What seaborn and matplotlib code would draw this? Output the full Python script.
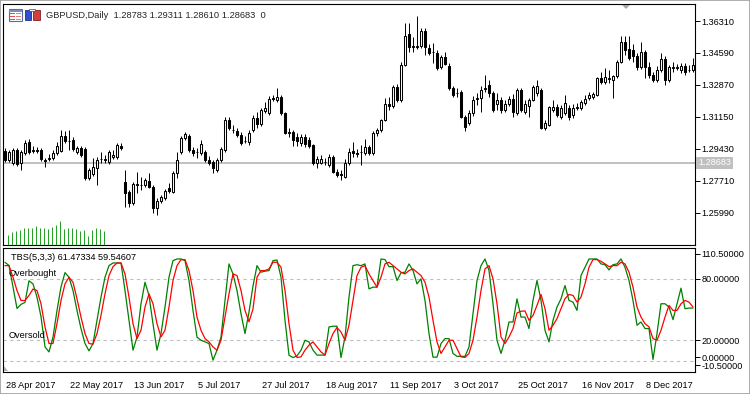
import numpy as np
import pandas as pd
import matplotlib
matplotlib.use("Agg")
import matplotlib.pyplot as plt
import matplotlib.transforms as mtrans
from matplotlib.patches import Rectangle, Polygon
import seaborn as sns

# ---------------- data ----------------
dates = pd.bdate_range("2017-04-28", periods=173)

open_ = [1.2932, 1.2883, 1.2867, 1.2937, 1.2867, 1.2921, 1.2980, 1.2932, 1.2937, 1.2937,
         1.2883, 1.2889, 1.2894, 1.2921, 1.2932, 1.3012, 1.2985, 1.2991, 1.2926, 1.2948,
         1.2942, 1.2786, 1.2808, 1.2840, 1.2889, 1.2883, 1.2872, 1.2899, 1.2899, 1.2958,
         1.2765, 1.2711, 1.2652, 1.2749, 1.2749, 1.2749, 1.2770, 1.2738, 1.2625, 1.2663,
         1.2679, 1.2733, 1.2711, 1.2813, 1.2926, 1.3002, 1.3012, 1.2937, 1.2926, 1.2921,
         1.2926, 1.2883, 1.2872, 1.2829, 1.2883, 1.2937, 1.3098, 1.3045, 1.3039, 1.3018,
         1.2985, 1.2980, 1.3045, 1.3109, 1.3077, 1.3147, 1.3136, 1.3211, 1.3206, 1.3222,
         1.3136, 1.3028, 1.3034, 1.3007, 1.2975, 1.3007, 1.2991, 1.2964, 1.2867, 1.2867,
         1.2872, 1.2856, 1.2899, 1.2819, 1.2808, 1.2792, 1.2867, 1.2932, 1.2921, 1.2926,
         1.2921, 1.2953, 1.2921, 1.3028, 1.3045, 1.3098, 1.3184, 1.3174, 1.3276, 1.3206,
         1.3394, 1.3561, 1.3491, 1.3491, 1.3497, 1.3577, 1.3486, 1.3464, 1.3459, 1.3384,
         1.3437, 1.3389, 1.3271, 1.3244, 1.3249, 1.3115, 1.3082, 1.3136, 1.3211, 1.3217,
         1.3265, 1.3287, 1.3244, 1.3184, 1.3206, 1.3152, 1.3184, 1.3211, 1.3136, 1.3260,
         1.3141, 1.3174, 1.3206, 1.3244, 1.3260, 1.3055, 1.3072, 1.3152, 1.3168, 1.3115,
         1.3136, 1.3163, 1.3125, 1.3163, 1.3163, 1.3190, 1.3217, 1.3222, 1.3233, 1.3324,
         1.3303, 1.3319, 1.3314, 1.3335, 1.3410, 1.3518, 1.3480, 1.3475, 1.3443, 1.3384,
         1.3464, 1.3384, 1.3341, 1.3314, 1.3367, 1.3427, 1.3314, 1.3378, 1.3378, 1.3367,
         1.3389, 1.3367, 1.3367]

high_ = [1.2948, 1.2937, 1.2948, 1.2948, 1.2937, 1.2991, 1.2996, 1.2958, 1.2953, 1.2948,
         1.2894, 1.2916, 1.2937, 1.2980, 1.3045, 1.3039, 1.3045, 1.3007, 1.2958, 1.2958,
         1.2953, 1.2840, 1.2894, 1.2899, 1.2926, 1.2910, 1.2937, 1.2937, 1.2975, 1.2975,
         1.2829, 1.2722, 1.2765, 1.2819, 1.2792, 1.2786, 1.2813, 1.2749, 1.2679, 1.2695,
         1.2727, 1.2760, 1.2824, 1.2926, 1.3012, 1.3034, 1.3023, 1.2953, 1.2948, 1.2991,
         1.2937, 1.2905, 1.2883, 1.2894, 1.2953, 1.3115, 1.3115, 1.3072, 1.3055, 1.3034,
         1.3012, 1.3045, 1.3125, 1.3141, 1.3163, 1.3195, 1.3228, 1.3233, 1.3271, 1.3233,
         1.3141, 1.3055, 1.3045, 1.3028, 1.3023, 1.3023, 1.3007, 1.2969, 1.2905, 1.2910,
         1.2894, 1.2916, 1.2910, 1.2835, 1.2829, 1.2889, 1.2948, 1.2980, 1.2942, 1.2964,
         1.2996, 1.2964, 1.3039, 1.3055, 1.3104, 1.3217, 1.3222, 1.3287, 1.3292, 1.3410,
         1.3620, 1.3620, 1.3545, 1.3658, 1.3593, 1.3593, 1.3507, 1.3513, 1.3475, 1.3448,
         1.3464, 1.3405, 1.3281, 1.3271, 1.3260, 1.3125, 1.3152, 1.3228, 1.3244, 1.3281,
         1.3341, 1.3314, 1.3254, 1.3244, 1.3222, 1.3206, 1.3228, 1.3238, 1.3271, 1.3271,
         1.3206, 1.3217, 1.3287, 1.3314, 1.3271, 1.3098, 1.3174, 1.3206, 1.3184, 1.3179,
         1.3233, 1.3179, 1.3184, 1.3190, 1.3206, 1.3233, 1.3249, 1.3249, 1.3330, 1.3357,
         1.3378, 1.3367, 1.3341, 1.3421, 1.3550, 1.3550, 1.3550, 1.3507, 1.3459, 1.3518,
         1.3475, 1.3410, 1.3357, 1.3389, 1.3459, 1.3443, 1.3394, 1.3410, 1.3400, 1.3405,
         1.3405, 1.3394, 1.3432]

low_ = [1.2872, 1.2872, 1.2856, 1.2851, 1.2829, 1.2910, 1.2916, 1.2921, 1.2921, 1.2878,
        1.2846, 1.2878, 1.2883, 1.2910, 1.2926, 1.2975, 1.2937, 1.2932, 1.2916, 1.2899,
        1.2776, 1.2776, 1.2797, 1.2749, 1.2867, 1.2867, 1.2862, 1.2889, 1.2889, 1.2937,
        1.2630, 1.2630, 1.2641, 1.2706, 1.2722, 1.2738, 1.2733, 1.2598, 1.2587, 1.2652,
        1.2668, 1.2706, 1.2706, 1.2786, 1.2916, 1.2991, 1.2926, 1.2905, 1.2894, 1.2910,
        1.2872, 1.2856, 1.2813, 1.2819, 1.2872, 1.2926, 1.3045, 1.3028, 1.3007, 1.2964,
        1.2975, 1.2964, 1.3034, 1.3055, 1.3066, 1.3136, 1.3125, 1.3201, 1.3195, 1.3125,
        1.3023, 1.3007, 1.2958, 1.2958, 1.2958, 1.2953, 1.2948, 1.2856, 1.2840, 1.2862,
        1.2856, 1.2846, 1.2813, 1.2792, 1.2776, 1.2786, 1.2856, 1.2899, 1.2899, 1.2856,
        1.2910, 1.2910, 1.2910, 1.3012, 1.3034, 1.3093, 1.3152, 1.3163, 1.3195, 1.3195,
        1.3389, 1.3464, 1.3464, 1.3480, 1.3486, 1.3448, 1.3448, 1.3405, 1.3367, 1.3373,
        1.3394, 1.3260, 1.3222, 1.3222, 1.3109, 1.3039, 1.3072, 1.3120, 1.3179, 1.3141,
        1.3249, 1.3222, 1.3141, 1.3152, 1.3136, 1.3141, 1.3174, 1.3115, 1.3125, 1.3141,
        1.3131, 1.3115, 1.3201, 1.3228, 1.3050, 1.3045, 1.3066, 1.3141, 1.3115, 1.3104,
        1.3125, 1.3098, 1.3109, 1.3152, 1.3152, 1.3179, 1.3206, 1.3211, 1.3228, 1.3292,
        1.3292, 1.3297, 1.3217, 1.3324, 1.3405, 1.3448, 1.3421, 1.3410, 1.3367, 1.3373,
        1.3324, 1.3324, 1.3303, 1.3303, 1.3357, 1.3287, 1.3303, 1.3357, 1.3367, 1.3351,
        1.3341, 1.3357, 1.3357]

close_ = [1.2883, 1.2926, 1.2937, 1.2862, 1.2926, 1.2975, 1.2926, 1.2937, 1.2932, 1.2889,
          1.2880, 1.2894, 1.2921, 1.2958, 1.3012, 1.2985, 1.2983, 1.2942, 1.2948, 1.2910,
          1.2786, 1.2829, 1.2846, 1.2883, 1.2891, 1.2886, 1.2926, 1.2910, 1.2964, 1.2948,
          1.2706, 1.2652, 1.2754, 1.2754, 1.2751, 1.2776, 1.2738, 1.2625, 1.2663, 1.2684,
          1.2716, 1.2716, 1.2813, 1.2883, 1.3002, 1.3023, 1.2937, 1.2921, 1.2924, 1.2969,
          1.2883, 1.2867, 1.2840, 1.2883, 1.2942, 1.3098, 1.3055, 1.3042, 1.3018, 1.2975,
          1.2983, 1.3028, 1.3109, 1.3077, 1.3152, 1.3163, 1.3211, 1.3217, 1.3222, 1.3136,
          1.3028, 1.3034, 1.2991, 1.2985, 1.3007, 1.2969, 1.2958, 1.2867, 1.2889, 1.2889,
          1.2875, 1.2899, 1.2819, 1.2803, 1.2805, 1.2867, 1.2926, 1.2921, 1.2918, 1.2924,
          1.2953, 1.2921, 1.3028, 1.3045, 1.3098, 1.3184, 1.3174, 1.3276, 1.3206, 1.3394,
          1.3550, 1.3491, 1.3497, 1.3497, 1.3577, 1.3491, 1.3459, 1.3462, 1.3378, 1.3437,
          1.3400, 1.3271, 1.3233, 1.3246, 1.3115, 1.3061, 1.3136, 1.3206, 1.3217, 1.3260,
          1.3271, 1.3244, 1.3152, 1.3206, 1.3152, 1.3184, 1.3211, 1.3141, 1.3260, 1.3152,
          1.3184, 1.3206, 1.3276, 1.3281, 1.3055, 1.3082, 1.3168, 1.3168, 1.3125, 1.3163,
          1.3190, 1.3115, 1.3163, 1.3168, 1.3195, 1.3211, 1.3233, 1.3238, 1.3324, 1.3303,
          1.3330, 1.3322, 1.3335, 1.3410, 1.3518, 1.3475, 1.3432, 1.3443, 1.3384, 1.3464,
          1.3384, 1.3341, 1.3314, 1.3367, 1.3427, 1.3314, 1.3384, 1.3381, 1.3381, 1.3389,
          1.3357, 1.3370, 1.3394]

# TBS(5,3,3) main (green) and signal (red) lines
tbs_main = [96, 93, 72, 51, 55, 57, 78, 75, 62, 43,
            13.5, 8.6, 23, 49, 72, 86, 81.5, 68.5, 49, 31.4,
            16.8, 9.6, 16.8, 39.4, 62, 81.5, 92.8, 95.4, 95.4, 95.4,
            68.5, 39.4, 10.3, 23, 55.6, 76.6, 63.7, 36, 10.3, 26.5,
            52.4, 81.5, 97.7, 99.3, 99.3, 97.7, 78.3, 49, 23, 20,
            18.4, 16.8, 0.6, 10.3, 23, 58.8, 94.5, 84.7, 68.5, 45.9,
            26.5, 47.5, 73, 92.8, 86.4, 87.4, 88, 97.7, 98.3, 81.5,
            39.4, 5.4, 3.1, 4.7, 10.3, 20, 18.4, 10.3, 5.5, 5.5,
            5.5, 33, 33.7, 33.7, 3.1, 23.2, 62.1, 92.8, 93.7, 92.8,
            94.5, 70.1, 71.8, 71.8, 99.3, 98.7, 91.8, 91.8, 78.3, 85.8,
            86.4, 94.5, 88, 75, 79.9, 58.8, 26.5, 3.5, 3.5, 16.8,
            21.6, 21.6, 7.1, 4.3, 4.3, 4.3, 13.5, 45.9, 78.3, 92.8,
            99.3, 88, 55.6, 20, 7.1, 20, 37.8, 37.8, 60.4, 42.6,
            42.6, 31.4, 58.8, 78.3, 58.8, 29.7, 18.4, 39.4, 52.4, 60.4,
            73.4, 58.8, 57.2, 49.1, 83.1, 91.2, 99.3, 99.3, 99.3, 94.5,
            93.7, 88.6, 93.7, 94.5, 99.3, 91.2, 78.3, 58.8, 34.6, 37.8,
            31.4, 31.4, 1.3, 26.5, 55.6, 55.6, 52.4, 40.1, 55.6, 70.8,
            50.8, 51.4, 51.4]

tbs_signal = [92.8, 92.8, 81.5, 68.5, 58.8, 58.8, 63.7, 70, 68.5, 55.6,
              33, 16.8, 16.8, 36.2, 58.8, 75, 81.5, 76.6, 60.4, 42.6,
              26.5, 16.8, 16.2, 26.5, 44.2, 65.3, 83.1, 91.8, 95.4, 95.4,
              84.7, 62.1, 36.2, 21.6, 29.7, 52.4, 65.3, 55.6, 36.2, 23.2,
              29.7, 52.4, 78.3, 92.8, 98.7, 98.7, 88, 68.5, 42.6, 29.7,
              21.6, 18.4, 13.5, 10.3, 20, 42.6, 65.3, 84.7, 83.1, 68.5,
              49.1, 38, 50.5, 81.5, 88, 88, 89.6, 96.1, 96.1, 91.2,
              68.5, 36.2, 10.3, 3.2, 3.8, 10.3, 15.2, 18.4, 13.5, 8.6,
              5.5, 16.8, 26.5, 32.4, 28.1, 20, 34.6, 58.8, 83.1, 91.2,
              92.8, 84.7, 78.3, 71.8, 81.5, 94.5, 96.1, 92.8, 89.6, 86.4,
              84.7, 88, 89.6, 86.4, 83.1, 76.6, 62.1, 39.4, 18.4, 7.1,
              13.5, 20, 20, 11.9, 3.8, 3.2, 7.1, 20, 42.6, 68.5,
              89.6, 92.8, 79.9, 55.6, 23.2, 16.8, 23.2, 31.4, 46.6, 48.3,
              48.6, 39.4, 44.2, 54, 64.7, 50.8, 29.7, 34.6, 41.1, 50.8,
              60.5, 64.7, 63.7, 57.2, 62.1, 75, 91.2, 98.7, 98.7, 97,
              94.5, 91.8, 92.8, 92.8, 96.1, 94.5, 86.4, 71.8, 52.4, 42.6,
              36.2, 33, 21.6, 20, 29.7, 42.6, 54, 49.1, 49.1, 55.6,
              58.8, 57.2, 52.4]

# volume histogram, drawn only under the first bars
volume = [60, 80, 84, 94, 106, 106, 106, 114, 106, 106, 100, 110, 120,
          146, 100, 106, 106, 100, 86, 94, 54, 90, 106, 100, 84]

price_ticks = [1.36310, 1.34590, 1.32870, 1.31150, 1.29430, 1.27710, 1.25990]
bid_price = 1.28683
title_text = "GBPUSD,Daily  1.28783 1.29311 1.28610 1.28683  0"
ind_text = "TBS(5,3,3) 61.47334 59.54607"
ind_tick_pos = [104.5, 80, 20, 3.5, -4.3]
ind_tick_lab = ["110.50000", "80.00000", "20.00000", "0.00000", "-10.50000"]
date_tick_idx = [0, 16, 32, 48, 64, 80, 96, 112, 128, 144, 160]

# ---------------- figure ----------------
sns.set_style("white")
plt.rcParams["font.family"] = ["Liberation Sans", "DejaVu Sans"]
FS = 6.6
W, H = 750, 394
fig = plt.figure(figsize=(7.5, 3.94), dpi=100)
fig.patch.set_facecolor("white")


def fx(px):
    return px / W


def fy(py):
    return 1 - py / H


ax = fig.add_axes([fx(3), fy(245.5), fx(695) - fx(3), fy(4) - fy(245.5)])
ax2 = fig.add_axes([fx(3), fy(371.5), fx(695) - fx(3), fy(247.5) - fy(371.5)])

n = len(close_)
idx = np.arange(n)
df = pd.DataFrame({"bar": idx, "date": dates, "open": open_, "high": high_,
                   "low": low_, "close": close_,
                   "main": tbs_main, "signal": tbs_signal})

# candles
o = df["open"].values
c = df["close"].values
up = c >= o
ax.vlines(idx, df["low"], df["high"], color="black", lw=0.7, zorder=2)
body_lo = np.minimum(o, c)
body_h = np.maximum(np.abs(c - o), 0.00005)
ax.bar(idx, body_h, bottom=body_lo, width=0.6,
       color=np.where(up, "white", "black"), edgecolor="black",
       linewidth=0.75, zorder=3)

# bid line
ax.axhline(bid_price, color="#C0C0C0", lw=1.4, zorder=1)

# volumes on hidden twin axis
axv = ax.twinx()
vx = np.arange(1, len(volume) + 1) - 0.2
axv.vlines(vx, 0, volume, color="#1E9E1E", lw=0.7)
axv.set_ylim(0, 1449)
axv.axis("off")

ax.set_xlim(-0.5, n - 0.5)
ax.set_ylim(1.24232, 1.37225)
ax.yaxis.tick_right()
ax.set_yticks(price_ticks)
ax.set_yticklabels([f"{p:.5f}" for p in price_ticks])
ax.set_xticks([])
ax.tick_params(axis="y", direction="out", length=3.5, width=0.7, pad=1,
               labelsize=FS, colors="black")
for s in ax.spines.values():
    s.set_linewidth(0.8)
    s.set_color("black")

ax.text(1.0 + 3 / 692, bid_price, f"{bid_price:.5f}",
        transform=mtrans.blended_transform_factory(ax.transAxes, ax.transData),
        ha="left", va="center", fontsize=FS, color="white",
        bbox=dict(boxstyle="square,pad=0.18", fc="#C0C0C0", ec="none"),
        clip_on=False)

# indicator lines
for lvl in (80, 20, 0):
    ax2.axhline(lvl, color="#C0C0C0", lw=0.8, ls=(0, (3, 3)), zorder=1)
sns.lineplot(data=df, x="bar", y="main", ax=ax2, color="#008000", lw=0.9,
             legend=False, zorder=3)
sns.lineplot(data=df, x="bar", y="signal", ax=ax2, color="#FF0000", lw=0.9,
             legend=False, zorder=4)
ax2.set_xlabel("")
ax2.set_ylabel("")
ax2.set_xlim(-0.5, n - 0.5)
ax2.set_ylim(-10.5, 110.5)
ax2.yaxis.tick_right()
ax2.set_yticks(ind_tick_pos)
ax2.set_yticklabels(ind_tick_lab)
ax2.set_xticks(date_tick_idx)
ax2.set_xticklabels([f"{dates[i].day} {dates[i].strftime('%b %Y')}" for i in date_tick_idx],
                    ha="left")
ax2.tick_params(axis="y", direction="out", length=3.5, width=0.7, pad=1,
                labelsize=FS, colors="black")
ax2.tick_params(axis="x", direction="out", length=5, width=0.7, pad=1.5,
                labelsize=FS, colors="black")
off = mtrans.ScaledTranslation(1.5 / 100, 0, fig.dpi_scale_trans)
for lab in ax2.get_xticklabels():
    lab.set_transform(lab.get_transform() + off)
for s in ax2.spines.values():
    s.set_linewidth(0.8)
    s.set_color("black")

ax2.text(0.85, 80.5, "Overbought", fontsize=FS, ha="left", va="bottom", color="black")
ax2.text(0.85, 20.5, "Oversold", fontsize=FS, ha="left", va="bottom", color="black")
ax2.text(fx(8) / (fx(695) - fx(3)), 0.92, ind_text, transform=ax2.transAxes,
         fontsize=FS, ha="left", va="center", color="black")

# header
fig.text(fx(45.5), fy(15.5), title_text, fontsize=6.7, ha="left", va="center")

# header icons
def frect(x0, y0, x1, y1, **kw):
    fig.patches.append(Rectangle((fx(x0), fy(y1)), fx(x1) - fx(x0), fy(y0) - fy(y1),
                                 transform=fig.transFigure, **kw))

frect(8.5, 9, 22, 20.5, fc="white", ec="#5A6E9A", lw=0.8)
frect(9, 9.5, 21.5, 11.5, fc="#7C8FB8", ec="none")
for yy in (13, 16, 18.5):
    frect(10, yy, 15, yy + 1.2, fc="#E05050", ec="none")
    frect(16, yy, 21, yy + 1.2, fc="#E08080", ec="none")
frect(25, 10, 31, 19.5, fc="#3050D0", ec="#203080", lw=0.6)
frect(33, 9.5, 39.5, 19.5, fc="#D04040", ec="#802020", lw=0.6)
frect(29, 9, 35, 11, fc="white", ec="#404040", lw=0.5)

# chart-shift marker and corner marker
fig.patches.append(Polygon([[fx(622), fy(5)], [fx(630), fy(5)], [fx(626), fy(9)]],
                           closed=True, transform=fig.transFigure, fc="#A8A8A8", ec="none"))
fig.patches.append(Polygon([[fx(4), fy(371)], [fx(8), fy(371)], [fx(4), fy(366)]],
                           closed=True, transform=fig.transFigure, fc="#B0B0B0", ec="none"))

# outer window border
fig.patches.append(Rectangle((0, 0), 1, 1, transform=fig.transFigure, fill=False,
                             ec="#A0A0A0", lw=1.2))

fig.savefig("out.png", dpi=100)
